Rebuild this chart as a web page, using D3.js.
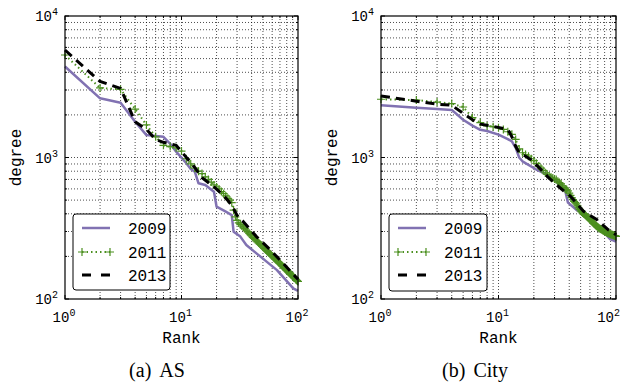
<!DOCTYPE html>
<html><head><meta charset="utf-8">
<script src="https://cdn.jsdelivr.net/npm/d3@7"></script>
<style>body{margin:0;background:#fff} svg{display:block}</style>
</head><body>
<script>
// ---------------- data ----------------
const seriesNames = ["2009", "2011", "2013"];
const xTickExp = [0, 1, 2];
const yTickExp = [2, 3, 4];
const captions = ["(a)\u2009\u2009AS", "(b)\u2009\u2009City"];
const xLabel = "Rank";
const yLabel = "degree";

// AS panel
const as2009 = [[1,4400],[2,2620],[3,2440],[4,1790],[5,1440],[6,1420],[7,1400],[8,1250],[9,1100],[11,910],[12,830],[13,795],[14,657],[16,640],[19,573],[20,449],[24,414],[27,392],[28,299],[32,276],[36,241],[44,210],[66,160],[91,119],[100,114]];
const as2013 = [[1,5750],[2,3450],[3,3080],[4,1790],[5,1580],[6,1340],[7,1280],[9,1220],[10,1100],[13,850],[15,720],[19,620],[23,540],[27,460],[30,390],[34,352],[44,276],[58,222],[74,180],[95,144],[100,138]];
const as2011 = [5300,3100,3030,2200,1700,1400,1220,1195,1170,1110,980,900,840,800,770,730,700,670,640,620,
  600,575,555,535,515,500,480,425,380,360,345,335,328,322,314,306,299,292,285,279,
  273,268,263,258,254,249,245,241,237,233,229,226,222,219,216,213,210,207,204,201,
  199,196,194,191,189,187,184,182,180,178,176,174,172,170,168,166,165,163,161,160,
  158,156,155,153,152,150,149,148,146,145,144,142,141,140,139,137,136,135,134,133];

// City panel
const city2009 = [[1,2340],[2,2250],[3,2200],[4,2170],[5,1850],[6,1680],[7,1570],[8,1540],[10,1450],[12,1350],[13,1300],[14,1170],[15,1000],[16,940],[21,822],[28,736],[34,625],[37,580],[39,480],[46,427],[56,390],[69,335],[89,265],[100,255]];
const city2013 = [[1,2720],[2,2500],[3,2380],[4,2340],[5,2050],[6,1850],[7,1720],[9,1660],[12,1580],[13,1400],[14,1200],[15,1080],[17,1022],[19,960],[23,822],[26,736],[31,644],[36,580],[41,532],[53,416],[69,363],[86,308],[100,285]];
const city2011 = [2580,2545,2466,2404,2275,1915,1764,1670,1652,1620,1580,1520,1457,1342,1150,1080,1050,1022,980,950,
  910,870,840,810,780,760,740,725,715,705,698,680,665,650,630,615,600,593,580,560,
  540,520,504,490,480,470,455,440,430,420,412,405,400,395,390,385,380,375,370,365,
  360,355,350,345,340,336,332,328,325,322,319,316,314,312,310,308,306,304,302,300,
  299,297,296,294,293,292,290,289,288,287,286,285,284,283,282,281,280,279,278,277];

// ---------------- drawing ----------------
const W = 621, H = 388;
const MONO = "'Liberation Mono','DejaVu Sans Mono','Courier New',monospace";
const colors = {"2009": "#8172b2", "2011": "#4b8f1f", "2013": "#000000"};
const svg = d3.select("body").append("svg").attr("width", W).attr("height", H)
  .attr("font-family", MONO);

const panels = [
  {left: 65, right: 298, top: 16, bottom: 299, s2009: as2009, s2011: as2011, s2013: as2013,
   legX: 73, legY: 214, legW: 97, legH: 76, ylabX: 16, capX: 157, caption: captions[0]},
  {left: 381, right: 616, top: 16, bottom: 299, s2009: city2009, s2011: city2011, s2013: city2013,
   legX: 389, legY: 214, legW: 98, legH: 77, ylabX: 332, capX: 475, caption: captions[1]}
];

function powLabel(sel, exp, anchor) {
  const t = sel.append("text").attr("text-anchor", anchor).attr("font-family", MONO)
    .attr("font-size", 14).attr("fill", "#000");
  t.append("tspan").text("10");
  t.append("tspan").attr("dy", -6).attr("font-size", 10).text(String(exp));
  return t;
}

panels.forEach(p => {
  const x = d3.scaleLog().domain([1, 100]).range([p.left, p.right]);
  const y = d3.scaleLog().domain([100, 10000]).range([p.bottom, p.top]);
  const g = svg.append("g");

  // grid (major + minor)
  const xg = [], yg = [];
  [1, 10].forEach(d => { for (let k = 1; k <= 9; k++) { const v = d * k; if (v > 1 && v < 100) xg.push(v); } });
  [100, 1000].forEach(d => { for (let k = 1; k <= 9; k++) { const v = d * k; if (v > 100 && v < 10000) yg.push(v); } });
  g.selectAll(".gx").data(xg).join("line")
    .attr("x1", d => x(d)).attr("x2", d => x(d)).attr("y1", p.top).attr("y2", p.bottom)
    .attr("stroke", "#000").attr("stroke-width", 0.7).attr("stroke-dasharray", "1,2");
  g.selectAll(".gy").data(yg).join("line")
    .attr("y1", d => y(d)).attr("y2", d => y(d)).attr("x1", p.left).attr("x2", p.right)
    .attr("stroke", "#000").attr("stroke-width", 0.7).attr("stroke-dasharray", "1,2");

  // inward ticks on all sides
  const major = v => [1, 10, 100, 1000, 10000].includes(v);
  const xt = [1, ...xg, 100], yt = [100, ...yg, 10000];
  xt.forEach(v => {
    const L = major(v) ? 4 : 2;
    g.append("line").attr("x1", x(v)).attr("x2", x(v)).attr("y1", p.bottom).attr("y2", p.bottom - L).attr("stroke", "#000");
    g.append("line").attr("x1", x(v)).attr("x2", x(v)).attr("y1", p.top).attr("y2", p.top + L).attr("stroke", "#000");
  });
  yt.forEach(v => {
    const L = major(v) ? 4 : 2;
    g.append("line").attr("y1", y(v)).attr("y2", y(v)).attr("x1", p.left).attr("x2", p.left + L).attr("stroke", "#000");
    g.append("line").attr("y1", y(v)).attr("y2", y(v)).attr("x1", p.right).attr("x2", p.right - L).attr("stroke", "#000");
  });

  // series
  const line = d3.line().x(d => x(d[0])).y(d => y(d[1]));
  const pts2011 = p.s2011.map((v, i) => [i + 1, v]);
  g.append("path").datum(p.s2009).attr("d", line).attr("fill", "none")
    .attr("stroke", colors["2009"]).attr("stroke-width", 2.5).attr("stroke-linejoin", "round");
  g.append("path").datum(pts2011).attr("d", line).attr("fill", "none")
    .attr("stroke", colors["2011"]).attr("stroke-width", 2).attr("stroke-dasharray", "1.5,3");
  g.selectAll(".m11").data(pts2011).join("path")
    .attr("d", d => `M${x(d[0]) - 4},${y(d[1])}h8M${x(d[0])},${y(d[1]) - 4}v8`)
    .attr("stroke", colors["2011"]).attr("stroke-width", 1.2).attr("fill", "none");
  g.append("path").datum(p.s2013).attr("d", line).attr("fill", "none")
    .attr("stroke", colors["2013"]).attr("stroke-width", 3).attr("stroke-dasharray", "9,6");

  // frame
  g.append("rect").attr("x", p.left).attr("y", p.top).attr("width", p.right - p.left).attr("height", p.bottom - p.top)
    .attr("fill", "none").attr("stroke", "#000").attr("stroke-width", 1.2);

  // tick labels
  xTickExp.forEach(e => {
    const t = powLabel(g, e, "middle").attr("x", x(Math.pow(10, e)) - 1).attr("y", p.bottom + 23);
    const b = t.node().getBBox();
    if (b.x + b.width > W - 1) t.attr("x", +t.attr("x") - (b.x + b.width - (W - 1)));
  });
  yTickExp.forEach(e => powLabel(g, e, "end").attr("x", p.left - 7).attr("y", y(Math.pow(10, e)) + 5));

  // axis labels
  g.append("text").attr("x", (p.left + p.right) / 2).attr("y", p.bottom + 44).attr("text-anchor", "middle")
    .attr("font-family", MONO).attr("font-size", 16).text(xLabel);
  g.append("text").attr("transform", `translate(${p.ylabX + 5},${(p.top + p.bottom) / 2}) rotate(-90)`)
    .attr("text-anchor", "middle").attr("font-family", MONO).attr("font-size", 16).text(yLabel);

  // legend
  const lg = g.append("g");
  lg.append("rect").attr("x", p.legX).attr("y", p.legY).attr("width", p.legW).attr("height", p.legH)
    .attr("rx", 3).attr("fill", "#fff").attr("stroke", "#000").attr("stroke-width", 1);
  const rows = [14, 38, 61];
  seriesNames.forEach((s, i) => {
    const yy = p.legY + rows[i], x1 = p.legX + 9, x2 = p.legX + 37;
    const ln = lg.append("line").attr("x1", x1).attr("x2", x2).attr("y1", yy).attr("y2", yy).attr("stroke", colors[s]);
    if (s === "2009") ln.attr("stroke-width", 2.5);
    if (s === "2011") {
      ln.attr("stroke-width", 2).attr("stroke-dasharray", "1.5,3");
      [x1, x2].forEach(xx => lg.append("path").attr("d", `M${xx - 4},${yy}h8M${xx},${yy - 4}v8`)
        .attr("stroke", colors[s]).attr("stroke-width", 1.2));
    }
    if (s === "2013") ln.attr("stroke-width", 3).attr("stroke-dasharray", "9,10");
    lg.append("text").attr("x", p.legX + 55).attr("y", yy + 6).attr("font-family", MONO)
      .attr("font-size", 16).text(s);
  });

  // caption
  svg.append("text").attr("x", p.capX).attr("y", 377).attr("text-anchor", "middle")
    .attr("font-family", "'Liberation Serif','Times New Roman',serif").attr("font-size", 20)
    .text(p.caption);
});
</script>
</body></html>
